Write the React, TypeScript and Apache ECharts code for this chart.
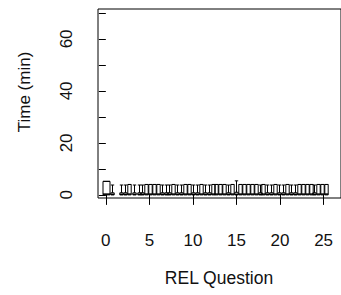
import React, { useEffect, useRef } from "react";
import * as echarts from "echarts";

// REL question positions (x) and box statistics (minutes)
const positions = [0, 0.75, 1.75, 2.2, 2.65, 3.2, 3.75, 4.2, 4.6, 5.05, 5.5, 5.95, 6.4, 6.85, 7.3, 7.75, 8.2, 8.65, 9.1, 9.55, 10.0, 10.45, 10.9, 11.35, 11.8, 12.25, 12.7, 13.15, 13.6, 14.05, 14.5, 14.95, 15.4, 15.85, 16.3, 16.75, 17.2, 17.65, 18.1, 18.55, 19.0, 19.45, 19.9, 20.35, 20.8, 21.25, 21.7, 22.15, 22.6, 23.05, 23.5, 23.95, 24.4, 24.85, 25.3];
const lows = [0, 0, 0, 0, 0, 0, 0, 0, 0, 0, 0, 0, 0, 0, 0, 0, 0, 0, 0, 0, 0, 0, 0, 0, 0, 0, 0, 0, 0, 0, 0, 0, 0, 0, 0, 0, 0, 0, 0, 0, 0, 0, 0, 0, 0, 0, 0, 0, 0, 0, 0, 0, 0, 0, 0];
const q1s = [0, 0, 0, 0, 0, 0, 0, 0, 0, 0, 0, 0, 0, 0, 0, 0, 0, 0, 0, 0, 0, 0, 0, 0, 0, 0, 0, 0, 0, 0, 0, 0, 0, 0, 0, 0, 0, 0, 0, 0, 0, 0, 0, 0, 0, 0, 0, 0, 0, 0, 0, 0, 0, 0, 0];
const medians = [0.3, 0.2, 0.2, 0.2, 0.3, 0.2, 0.2, 0.2, 0.3, 0.3, 0.3, 0.3, 0.2, 0.2, 0.2, 0.3, 0.2, 0.2, 0.3, 0.3, 0.2, 0.2, 0.3, 0.2, 0.2, 0.3, 0.3, 0.3, 0.3, 0.2, 0.3, 0.2, 0.3, 0.3, 0.3, 0.3, 0.3, 0.2, 0.3, 0.2, 0.2, 0.3, 0.2, 0.2, 0.3, 0.2, 0.2, 0.3, 0.3, 0.3, 0.3, 0.2, 0.3, 0.3, 0.3];
const q3s = [5.2, 0.8, 0.8, 0.8, 4.0, 0.8, 0.8, 0.8, 4.0, 4.0, 4.0, 4.0, 0.8, 0.8, 0.8, 4.0, 0.8, 0.8, 4.0, 4.0, 0.8, 0.8, 4.0, 0.8, 0.8, 4.0, 4.0, 4.0, 4.0, 0.8, 4.0, 1.0, 4.0, 4.0, 4.0, 4.0, 4.0, 0.8, 4.0, 0.8, 0.8, 4.0, 0.8, 0.8, 4.0, 0.8, 0.8, 4.0, 4.0, 4.0, 4.0, 0.8, 4.0, 4.0, 4.0];
const highs = [5.2, 3.8, 3.8, 3.8, 4.0, 3.8, 3.8, 3.8, 4.0, 4.0, 4.0, 4.0, 3.8, 3.8, 3.8, 4.0, 3.8, 3.8, 4.0, 4.0, 3.8, 3.8, 4.0, 3.8, 3.8, 4.0, 4.0, 4.0, 4.0, 3.8, 4.0, 5.4, 4.0, 4.0, 4.0, 4.0, 4.0, 3.8, 4.0, 3.8, 3.8, 4.0, 3.8, 3.8, 4.0, 3.8, 3.8, 4.0, 4.0, 4.0, 4.0, 3.8, 4.0, 4.0, 4.0];

const xTicks = [0, 5, 10, 15, 20, 25];
const yTicks = [0, 10, 20, 30, 40, 50, 60, 70];
const yLabels = [0, 20, 40, 60];

const FONT = "'Liberation Sans', Arial, sans-serif";

export default function App() {
  const ref = useRef<HTMLDivElement>(null);
  useEffect(() => {
    if (!ref.current) return;
    const chart = echarts.init(ref.current, null, { renderer: "svg" });
    const data = positions.map((x, i) => [x, lows[i], q1s[i], medians[i], q3s[i], highs[i]]);
    chart.setOption({
      animation: false,
      backgroundColor: "#fff",
      grid: {
        left: 98,
        top: 9,
        width: 253,
        height: 189,
        show: true,
        borderColor: "#000",
        borderWidth: 1,
        backgroundColor: "transparent",
      },
      xAxis: {
        type: "value",
        min: -0.9,
        max: 27,
        axisLine: { show: false },
        splitLine: { show: false },
        axisTick: { show: true, length: 10, lineStyle: { color: "#000" }, customValues: xTicks },
        axisLabel: { customValues: xTicks, margin: 34, fontSize: 17, color: "#111", fontFamily: FONT },
      },
      yAxis: {
        type: "value",
        min: -1.2,
        max: 71.5,
        axisLine: { show: false },
        splitLine: { show: false },
        axisTick: { show: true, length: 7, lineStyle: { color: "#000" }, customValues: yTicks },
        axisLabel: { customValues: yLabels, rotate: 90, margin: 23, fontSize: 17, color: "#111", fontFamily: FONT },
      },
      graphic: [
        {
          type: "text",
          x: 24,
          y: 92,
          rotation: Math.PI / 2,
          style: { text: "Time (min)", fontSize: 17, fontFamily: FONT, fill: "#111", textAlign: "center", textVerticalAlign: "middle" },
        },
        {
          type: "text",
          x: 219,
          y: 278,
          style: { text: "REL Question", fontSize: 17.5, fontFamily: FONT, fill: "#111", textAlign: "center", textVerticalAlign: "middle" },
        },
      ],
      series: [
        {
          type: "custom",
          data,
          encode: { x: 0, y: [1, 2, 3, 4, 5] },
          renderItem: (params: any, api: any) => {
            const x = api.value(0);
            const c = (v: number) => api.coord([x, v]);
            const pLo = c(api.value(1));
            const pQ1 = c(api.value(2));
            const pMd = c(api.value(3));
            const pQ3 = c(api.value(4));
            const pHi = c(api.value(5));
            const half = params.dataIndex === 0 ? 3.5 : 1.7;
            const cx = Math.round(pMd[0]) + 0.5;
            const s = { stroke: "#000", lineWidth: 1, fill: "none" };
            return {
              type: "group",
              children: [
                { type: "rect", shape: { x: cx - half, y: pQ3[1], width: half * 2, height: pQ1[1] - pQ3[1] }, style: s },
                { type: "line", shape: { x1: cx - half, y1: pMd[1], x2: cx + half, y2: pMd[1] }, style: { stroke: "#000", lineWidth: 1.5 } },
                { type: "line", shape: { x1: cx, y1: pQ3[1], x2: cx, y2: pHi[1] }, style: s },
                { type: "line", shape: { x1: cx - half, y1: pHi[1], x2: cx + half, y2: pHi[1] }, style: s },
                { type: "line", shape: { x1: cx, y1: pQ1[1], x2: cx, y2: pLo[1] }, style: s },
              ],
            };
          },
        },
      ],
    });
    return () => chart.dispose();
  }, []);
  return <div ref={ref} style={{ position: "fixed", left: 0, top: 0, width: 341, height: 295 }} />;
}
